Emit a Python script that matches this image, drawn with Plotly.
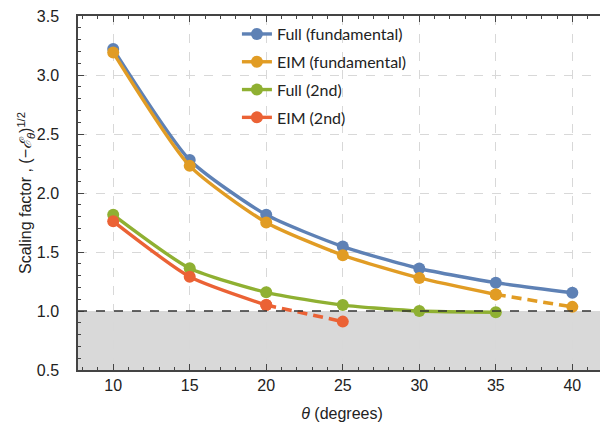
import plotly.graph_objects as go

theta = [10, 15, 20, 25, 30, 35, 40]
full_fund = [3.22, 2.28, 1.815, 1.546, 1.36, 1.24, 1.155]
eim_fund = [3.19, 2.23, 1.75, 1.473, 1.28, 1.14, 1.035]
theta_2nd_full = [10, 15, 20, 25, 30, 35]
full_2nd = [1.815, 1.362, 1.158, 1.05, 1.0, 0.99]
theta_2nd_eim = [10, 15, 20, 25]
eim_2nd = [1.76, 1.29, 1.05, 0.91]

names = ["Full (fundamental)", "EIM (fundamental)", "Full (2nd)", "EIM (2nd)"]
colors = ["#5E81B5", "#E19C24", "#8FB032", "#EB6235"]
# (x, y, number of points drawn solid; rest dashed)
series = [
    (theta, full_fund, 7),
    (theta, eim_fund, 6),
    (theta_2nd_full, full_2nd, 6),
    (theta_2nd_eim, eim_2nd, 3),
]

fig = go.Figure()
for i, (x, y, n) in enumerate(series):
    if n < len(x):
        fig.add_trace(go.Scatter(
            x=x[n-1:], y=y[n-1:], mode="lines+markers",
            line=dict(color=colors[i], width=3.6, dash="10px,6px"),
            marker=dict(size=12, color=colors[i]),
            showlegend=False, hoverinfo="skip"))
    fig.add_trace(go.Scatter(
        x=x[:n], y=y[:n], mode="lines+markers", name=names[i],
        legendgroup=names[i],
        line=dict(color=colors[i], width=3.4, shape="spline", smoothing=0.6),
        marker=dict(size=12, color=colors[i])))

fig.add_shape(type="rect", xref="paper", yref="y", x0=0, x1=1, y0=0.5, y1=1.0,
              fillcolor="#d9d9d9", line=dict(width=0), layer="below")
fig.add_shape(type="line", xref="paper", yref="y", x0=0, x1=1, y0=1.0, y1=1.0,
              line=dict(color="#333333", width=1.5, dash="dash"), layer="above")

axis_common = dict(
    showline=True, linecolor="#444444", linewidth=1.5, mirror="allticks",
    ticks="inside", ticklen=6, tickcolor="#444444",
    showgrid=True, gridcolor="#d8d8d8", griddash="dash", gridwidth=1,
    zeroline=False, automargin=False, ticklabeloverflow="allow",
    tickfont=dict(family="Liberation Sans", size=16, color="#222222"),
)

fig.update_xaxes(range=[7.7, 42.2], tickvals=[10, 15, 20, 25, 30, 35, 40],
                 minor=dict(dtick=1, ticklen=3, ticks="inside", tickcolor="#444444", showgrid=False),
                 title=dict(text="<i>θ</i> (degrees)", font=dict(family="Liberation Sans", size=16, color="#222222"), standoff=15),
                 **axis_common)
fig.update_yaxes(range=[0.5, 3.5001], tickvals=[0.5, 1.0, 1.5, 2.0, 2.5, 3.0, 3.5],
                 ticktext=["0.5", "1.0", "1.5", "2.0", "2.5", "3.0", "3.5"],
                 ticklabelstandoff=14,
                 minor=dict(dtick=0.1, ticklen=3, ticks="inside", tickcolor="#444444", showgrid=False),
                 title=dict(text="Scaling factor , (−<i>ℰ</i><sub><i>θ</i></sub>)<sup>1/2</sup>",
                            font=dict(family="Liberation Sans", size=16, color="#222222"), standoff=0),
                 **axis_common)

fig.update_layout(
    width=600, height=422,
    margin=dict(l=70, r=2, t=8, b=60),
    plot_bgcolor="white", paper_bgcolor="white",
    legend=dict(x=0.301, y=0.997, xanchor="left", yanchor="top",
                bgcolor="rgba(0,0,0,0)", tracegroupgap=4,
                font=dict(family="Lato", size=16, color="#222222"),
                itemwidth=30),
)

fig.write_html("out.html")
